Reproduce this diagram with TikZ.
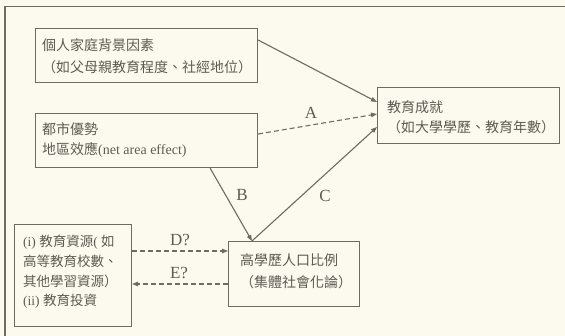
\documentclass[tikz,border=0pt]{standalone}
\usepackage{fontspec}
\setmainfont{Liberation Serif}
\newfontfamily\cjk{Noto Sans CJK TC}
\usetikzlibrary{arrows.meta}
\definecolor{bgc}{HTML}{FCFAEE}
\definecolor{lnc}{HTML}{6E6A64}
\definecolor{txc}{HTML}{5E5A55}
\begin{document}
\begin{tikzpicture}[x=1pt,y=-1pt,
  box/.style={draw=lnc, line width=1.1pt, anchor=north west, inner sep=0pt},
  txt/.style={text=txc, anchor=west, align=left, inner sep=0pt},
  lab/.style={text=txc, inner sep=0pt, font=\fontsize{17}{17}\selectfont},
  arr/.style={draw=lnc, line width=1.1pt, -{Triangle[length=6pt,width=4.5pt]}},
  dsh/.style={arr, dash pattern=on 5pt off 3pt}]
\fill[bgc] (0,0) rectangle (565,336);
\useasboundingbox (0,0) rectangle (565,336);
\draw[lnc, line width=1.1pt] (5,345) |- (575,6.5);
% boxes
\node[box, minimum width=222pt, minimum height=54pt] (b1) at (35,28) {};
\node[box, minimum width=222pt, minimum height=54pt] (b2) at (35,113) {};
\node[box, minimum width=182pt, minimum height=56pt] (b3) at (377,87) {};
\node[box, minimum width=117pt, minimum height=102pt] (b4) at (14,224) {};
\node[box, minimum width=131pt, minimum height=65pt] (b5) at (228,241) {};
% texts
\node[txt, font=\fontsize{14}{22}\selectfont] (t1) at (42,56)
  {{\cjk 個人家庭背景因素}\\{\cjk （如父母親教育程度、社經地位）}};
\node[txt, font=\fontsize{14}{20}\selectfont] (t2) at (42,140)
  {{\cjk 都市優勢}\\{\cjk 地區效應}(net area effect)};
\node[txt, font=\fontsize{14}{20}\selectfont] (t3) at (387,117)
  {{\cjk 教育成就}\\{\cjk （如大學學歷、教育年數）}};
\node[txt, font=\fontsize{13.5}{19.7}\selectfont] (t4) at (23,272)
  {(i) {\cjk 教育資源}( {\cjk 如}\\{\cjk 高等教育校數、}\\{\cjk 其他學習資源）}\\(ii) {\cjk 教育投資}};
\node[txt, font=\fontsize{14}{22}\selectfont] (t5) at (240,271)
  {{\cjk 高學歷人口比例}\\{\cjk （集體社會化論）}};
% connectors
\draw[arr] ([yshift=-12pt]b1.north east) -- ([yshift=-15pt]b3.north west);
\draw[dsh] ([yshift=-21pt]b2.north east) -- ([yshift=-27pt]b3.north west);
\draw[arr] ([xshift=-48pt]b2.south east) -- ([xshift=24pt]b5.north west);
\draw[arr] ([xshift=24pt]b5.north west) -- ([yshift=-40pt]b3.north west);
\draw[dsh] ([yshift=-27pt]b4.north east) -- ([yshift=-10pt]b5.north west);
\draw[dsh] ([yshift=-43pt]b5.north west) -- ([yshift=-60pt]b4.north east);
% labels
\node[lab] (la) at (311,113) {A};
\node[lab] (lb) at (242,195) {B};
\node[lab] (lc) at (325,196) {C};
\node[lab] (ld) at (180,240) {D?};
\node[lab] (le) at (179,273) {E?};
\end{tikzpicture}
\end{document}
